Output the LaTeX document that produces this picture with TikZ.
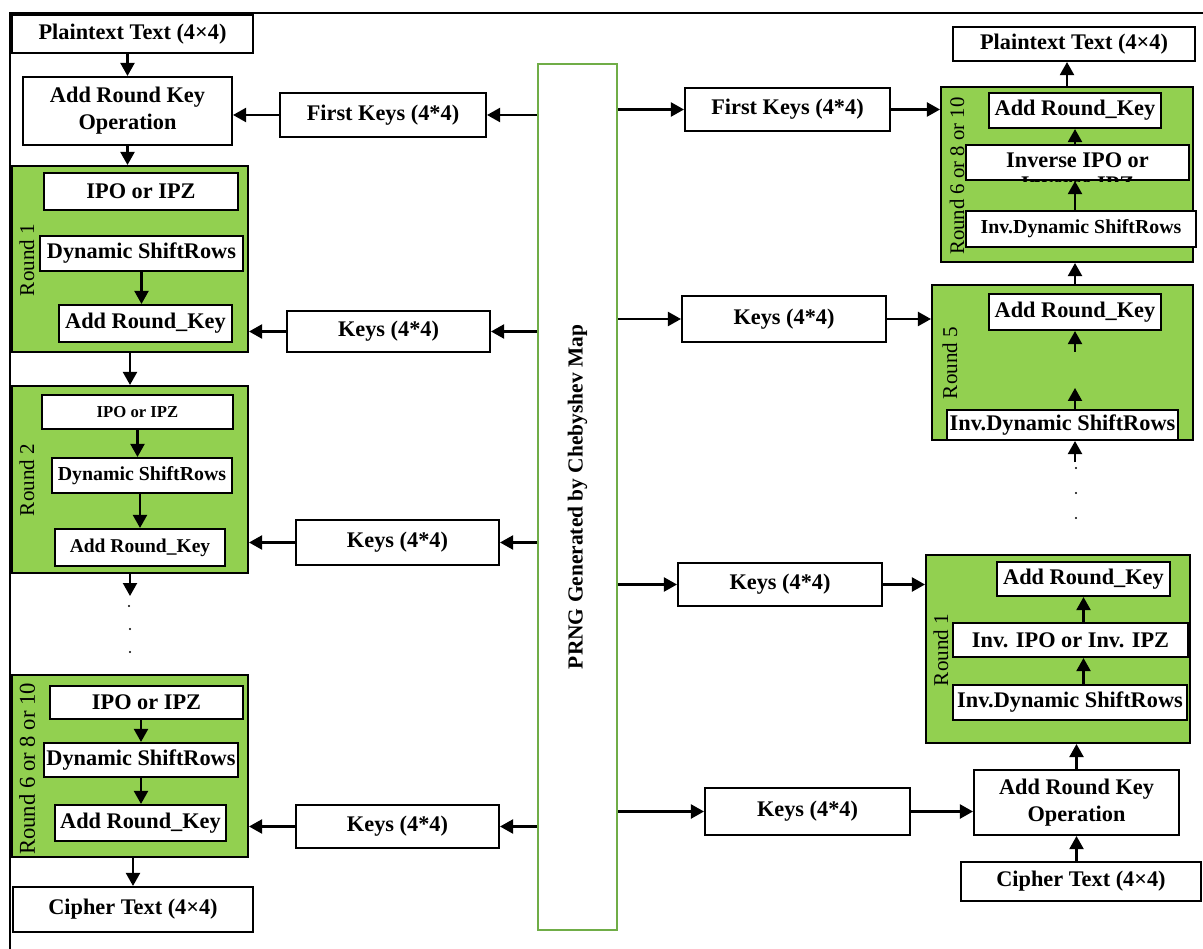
\documentclass[tikz,border=0pt]{standalone}
\usepackage{fontspec}
\setmainfont{Liberation Serif}
\usetikzlibrary{arrows.meta,calc}
\definecolor{RodadaVerde}{RGB}{146,208,80}
\definecolor{PrngVerde}{RGB}{112,173,71}
\tikzset{
  caixa/.style={draw, fill=white, line width=1.2pt, inner sep=0pt, align=center,
                font=\bfseries\fontsize{12.7}{15.3}\selectfont},
  rodada/.style={draw, fill=RodadaVerde, line width=1.2pt, inner sep=0pt},
  rotulo/.style={rotate=90, inner sep=0pt, font=\fontsize{12}{14}\selectfont},
  seta/.style={-{Triangle[length=2.6mm,width=2.8mm]}, line width=1.2pt},
  ponto/.style={circle, fill, inner sep=0pt, minimum size=1.3pt},
}

\begin{document}
\begin{tikzpicture}[x=0.02cm, y=-0.02cm]
  \useasboundingbox (0,0) rectangle (1203,949);
  % Moldura
  \draw[line width=1.2pt] (10,949) -- (10,13) -- (1203,13);

  % PRNG central
  \node[draw=PrngVerde, line width=1.4pt, fill=white, minimum width=1.58cm, minimum height=17.32cm,
        label={[rotate=90, font=\bfseries\fontsize{12.2}{14}\selectfont]center:PRNG Generated by Chebyshev Map}]
        (prng) at (577.5,497) {};

  % Coluna da esquerda: cifragem
  \node[caixa, minimum width=4.82cm, minimum height=0.76cm] (ptL) at (132.5,34) {Plaintext Text (4×4)};
  \node[caixa, minimum width=4.18cm, minimum height=1.36cm] (arkL) at (127.5,111) {Add Round Key\\Operation};

  % Rodada 1
  \node[rodada, minimum width=4.72cm, minimum height=3.72cm] (r1L) at (130,259) {};
  \node[rotulo] (lr1L) at (27,260) {Round 1};
  \node[caixa, minimum width=3.88cm, minimum height=0.74cm] (ipo1L) at (141,191.5) {IPO or IPZ};
  \node[caixa, minimum width=4.06cm, minimum height=0.70cm] (dsr1L) at (141.5,253.5) {Dynamic ShiftRows};
  \node[caixa, minimum width=3.46cm, minimum height=0.74cm] (ark1L) at (145.5,323.5) {Add Round\_Key};

  % Rodada 2
  \node[rodada, minimum width=4.72cm, minimum height=3.74cm] (r2L) at (130,479.5) {};
  \node[rotulo] (lr2L) at (27,480) {Round 2};
  \node[caixa, font=\bfseries\fontsize{9.5}{11}\selectfont, minimum width=3.82cm, minimum height=0.68cm] (ipo2L) at (137.5,412) {IPO or IPZ};
  \node[caixa, font=\bfseries\fontsize{11.3}{13}\selectfont, minimum width=3.60cm, minimum height=0.70cm] (dsr2L) at (142,475.5) {Dynamic ShiftRows};
  \node[caixa, font=\bfseries\fontsize{11.1}{13}\selectfont, minimum width=3.40cm, minimum height=0.74cm] (ark2L) at (140,547.5) {Add Round\_Key};

  % Reticencias
  \coordinate (c2L) at (130,596);
  \node[ponto] (d1L) at (129,606) {};
  \node[ponto] (d2L) at (130,629) {};
  \node[ponto] (d3L) at (130,652) {};

  % Ultima rodada
  \node[rodada, minimum width=4.72cm, minimum height=3.64cm] (rnL) at (130,766) {};
  \node[rotulo, font=\fontsize{12.9}{14}\selectfont] (lrnL) at (27,769) {Round 6 or 8 or 10};
  \node[caixa, minimum width=3.86cm, minimum height=0.66cm] (ipoNL) at (146.5,702.5) {IPO or IPZ};
  \node[caixa, minimum width=3.88cm, minimum height=0.68cm] (dsrNL) at (141,760) {Dynamic ShiftRows};
  \node[caixa, minimum width=3.42cm, minimum height=0.72cm] (arkNL) at (140.5,823) {Add Round\_Key};
  \node[caixa, minimum width=4.80cm, minimum height=0.90cm] (ctL) at (133,909.5) {Cipher Text (4×4)};

  % Setas da esquerda
  \draw[seta] (ptL.south -| arkL.north) -- (arkL.north);
  \draw[seta] (arkL.south) -- (arkL.south |- r1L.north);
  \draw[seta] (dsr1L.south) -- (dsr1L.south |- ark1L.north);
  \draw[seta] (r1L.south) -- (r2L.north);
  \draw[seta] (ipo2L.south) -- (ipo2L.south |- dsr2L.north);
  \draw[seta] (ark2L.north |- dsr2L.south) -- (ark2L.north);
  \draw[seta] (r2L.south) -- (c2L);
  \draw[seta] (dsrNL.north |- ipoNL.south) -- (dsrNL.north);
  \draw[seta] (dsrNL.south) -- (dsrNL.south |- arkNL.north);
  \draw[seta] (ctL.north |- rnL.south) -- (ctL.north);

  % Chaves da esquerda
  \node[caixa, minimum width=4.12cm, minimum height=0.88cm] (fkL) at (383,115) {First Keys (4*4)};
  \node[caixa, minimum width=4.06cm, minimum height=0.82cm] (k1L) at (388.5,331.5) {Keys (4*4)};
  \node[caixa, minimum width=4.06cm, minimum height=0.90cm] (k2L) at (397.5,542.5) {Keys (4*4)};
  \node[caixa, minimum width=4.06cm, minimum height=0.86cm] (kNL) at (397.5,826.5) {Keys (4*4)};

  \draw[seta] (prng.west |- fkL.east) -- (fkL.east);
  \draw[seta] (fkL.west) -- (fkL.west -| arkL.east);
  \draw[seta] (prng.west |- k1L.east) -- (k1L.east);
  \draw[seta] (k1L.west) -- (k1L.west -| r1L.east);
  \draw[seta] (prng.west |- k2L.east) -- (k2L.east);
  \draw[seta] (k2L.west) -- (k2L.west -| r2L.east);
  \draw[seta] (prng.west |- kNL.east) -- (kNL.east);
  \draw[seta] (kNL.west) -- (kNL.west -| rnL.east);

  % Chaves da direita
  \node[caixa, minimum width=4.10cm, minimum height=0.86cm] (fkR) at (787.5,109.5) {First Keys (4*4)};
  \node[caixa, minimum width=4.08cm, minimum height=0.92cm] (k5R) at (784,319) {Keys (4*4)};
  \node[caixa, minimum width=4.08cm, minimum height=0.86cm] (k1R) at (780,584.5) {Keys (4*4)};
  \node[caixa, minimum width=4.10cm, minimum height=0.94cm] (kaR) at (807.5,811.5) {Keys (4*4)};

  % Coluna da direita: decifragem
  \node[caixa, minimum width=4.84cm, minimum height=0.68cm] (ptR) at (1074,44) {Plaintext Text (4×4)};

  % Ultima rodada inversa
  \node[rodada, minimum width=5.04cm, minimum height=3.50cm] (rnR) at (1067,174.5) {};
  \node[rotulo, font=\fontsize{11.8}{14}\selectfont] (lrnR) at (957,176) {Round 6 or 8 or 10};
  \node[caixa, minimum width=3.44cm, minimum height=0.70cm] (arkNR) at (1075,110.5) {Add Round\_Key};
  \node[caixa, minimum width=4.46cm, minimum height=0.70cm] (ipoNR) at (1077.5,162.5) {};
  \begin{scope}
    \clip (ipoNR.south west) rectangle (ipoNR.north east);
    \node[caixa, draw=none, fill=none, font=\bfseries\fontsize{12.7}{13.6}\selectfont] (tipoNR) at (1077.5,172) {Inverse IPO or\\Inverse IPZ};
  \end{scope}
  \node[caixa, font=\bfseries\fontsize{11.3}{13}\selectfont, minimum width=4.60cm, minimum height=0.72cm] (dsrNR) at (1081,229) {Inv.Dynamic ShiftRows};

  % Rodada 5 inversa
  \node[rodada, minimum width=5.22cm, minimum height=3.10cm] (r5R) at (1062.5,362.5) {};
  \node[rotulo] (lr5R) at (950,363) {Round 5};
  \node[caixa, minimum width=3.44cm, minimum height=0.72cm] (ark5R) at (1075,312) {Add Round\_Key};
  \node[caixa, minimum width=4.62cm, minimum height=0.60cm] (dsr5R) at (1062.5,425) {Inv.Dynamic ShiftRows};
  \coordinate (c5a) at (1075,352);
  \coordinate (c5b) at (1075,388);
  \coordinate (c5c) at (1075,462);
  \node[ponto] (d1R) at (1076,468) {};
  \node[ponto] (d2R) at (1076,493) {};
  \node[ponto] (d3R) at (1076,518) {};

  % Rodada 1 inversa
  \node[rodada, minimum width=5.28cm, minimum height=3.76cm] (r1R) at (1058,649) {};
  \node[rotulo] (lr1R) at (941,650) {Round 1};
  \node[caixa, minimum width=3.46cm, minimum height=0.68cm] (ark1R) at (1083.5,579) {Add Round\_Key};
  \node[caixa, minimum width=4.70cm, minimum height=0.68cm] (ipo1R) at (1070.5,640) {Inv. IPO or Inv. IPZ};
  \node[caixa, minimum width=4.68cm, minimum height=0.70cm] (dsr1R) at (1070,702.5) {Inv.Dynamic ShiftRows};

  \node[caixa, minimum width=4.10cm, minimum height=1.30cm] (arkR) at (1076.5,802.5) {Add Round Key\\Operation};
  \node[caixa, minimum width=4.80cm, minimum height=0.78cm] (ctR) at (1081,881.5) {Cipher Text (4×4)};

  % Setas da direita
  \draw[seta] (prng.east |- fkR.west) -- (fkR.west);
  \draw[seta] (fkR.east) -- (fkR.east -| rnR.west);
  \draw[seta] (prng.east |- k5R.west) -- (k5R.west);
  \draw[seta] (k5R.east) -- (k5R.east -| r5R.west);
  \draw[seta] (prng.east |- k1R.west) -- (k1R.west);
  \draw[seta] (k1R.east) -- (k1R.east -| r1R.west);
  \draw[seta] (prng.east |- kaR.west) -- (kaR.west);
  \draw[seta] (kaR.east) -- (kaR.east -| arkR.west);

  \draw[seta] (ctR.north -| arkR.south) -- (arkR.south);
  \draw[seta] (arkR.north) -- (arkR.north |- r1R.south);
  \draw[seta] (ark1R.south |- dsr1R.north) -- (ark1R.south |- ipo1R.south);
  \draw[seta] (ark1R.south |- ipo1R.north) -- (ark1R.south);
  \draw[seta] (c5c) -- (c5c |- r5R.south);
  \draw[seta] (dsr5R.north -| c5b) -- (c5b);
  \draw[seta] (c5a) -- (ark5R.south);
  \draw[seta] (r5R.north -| ark5R.north) -- (ark5R.north |- rnR.south);
  \draw[seta] (arkNR.south |- dsrNR.north) -- (arkNR.south |- ipoNR.south);
  \draw[seta] (arkNR.south |- ipoNR.north) -- (arkNR.south);
  \draw[seta] (rnR.north) -- (rnR.north |- ptR.south);
\end{tikzpicture}
\end{document}
